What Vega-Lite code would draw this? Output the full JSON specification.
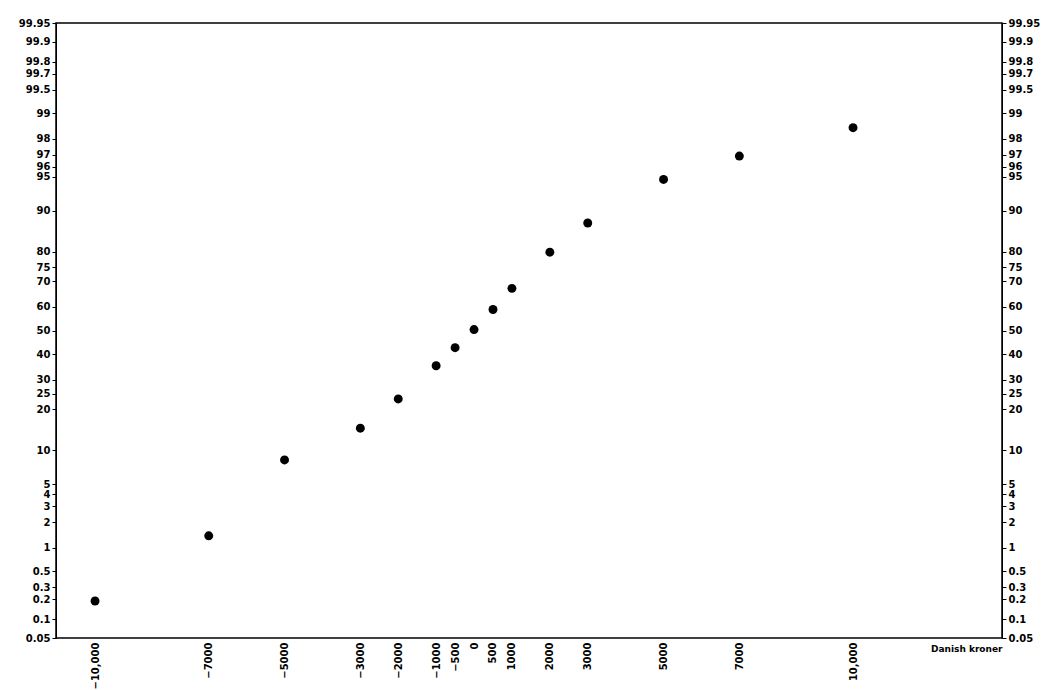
{
"$schema":"https://vega.github.io/schema/vega-lite/v6.json",
"width":946,"height":615,
"padding":{"left":18,"top":18,"right":5,"bottom":5},
"background":"white",
"config":{"view":{"stroke":"black","strokeWidth":1.5},"font":"DejaVu Sans","axis":{"labelFont":"DejaVu Sans","labelFontWeight":"bold","labelFontSize":10,"labelColor":"black","tickColor":"black","domainColor":"black","grid":false,"labelOverlap":false,"labelFlush":false}},
"data":{"values":[
{"kr":-10000,"p":0.19},{"kr":-7000,"p":1.4},{"kr":-5000,"p":8.3},{"kr":-3000,"p":14.8},{"kr":-2000,"p":23.2},{"kr":-1000,"p":35.3},{"kr":-500,"p":42.7},{"kr":0,"p":50.4},{"kr":500,"p":58.9},{"kr":1000,"p":67.4},{"kr":2000,"p":79.9},{"kr":3000,"p":87.5},{"kr":5000,"p":94.7},{"kr":7000,"p":96.9},{"kr":10000,"p":98.5}
]},
"transform":[{"calculate":"quantileNormal(datum.p/100)","as":"z"}],
"layer":[
{"mark":{"type":"point","filled":true,"color":"black","opacity":1,"size":80},
"encoding":{
"x":{"field":"kr","type":"quantitative","scale":{"domain":[-11030,13930],"nice":false,"zero":false},
"axis":{"values":[-10000,-7000,-5000,-3000,-2000,-1000,-500,0,500,1000,2000,3000,5000,7000,10000],"labelAngle":-90,"labelExpr":"datum.value<=-10000||datum.value>=10000 ? replace(format(datum.value,','),'-','−') : replace(format(datum.value,'d'),'-','−')","labelPadding":4,"tickSize":0,"domain":false,"title":"Danish kroner","titleFontSize":9,"titleFontWeight":"bold","titleAngle":0,"titleAlign":"right","titleBaseline":"top","titleX":946,"titleY":6}},
"y":{"field":"z","type":"quantitative","scale":{"domain":[-3.2905,3.2905],"nice":false,"zero":false},
"axis":{"values":[-3.2905,-3.0902,-2.8782,-2.7478,-2.5758,-2.3263,-2.0537,-1.8808,-1.7507,-1.6449,-1.2816,-0.8416,-0.6745,-0.5244,-0.2533,0,0.2533,0.5244,0.6745,0.8416,1.2816,1.6449,1.7507,1.8808,2.0537,2.3263,2.5758,2.7478,2.8782,3.0902,3.2905],"labelExpr":"format(round(cumulativeNormal(datum.value)*10000)/100,'.4~r')","tickSize":4,"labelPadding":2,"title":null}}
}},
{"mark":{"type":"point","opacity":0},
"encoding":{"y":{"field":"z","type":"quantitative","axis":{"orient":"right","values":[-3.2905,-3.0902,-2.8782,-2.7478,-2.5758,-2.3263,-2.0537,-1.8808,-1.7507,-1.6449,-1.2816,-0.8416,-0.6745,-0.5244,-0.2533,0,0.2533,0.5244,0.6745,0.8416,1.2816,1.6449,1.7507,1.8808,2.0537,2.3263,2.5758,2.7478,2.8782,3.0902,3.2905],"labelExpr":"format(round(cumulativeNormal(datum.value)*10000)/100,'.4~r')","tickSize":4,"labelPadding":2,"title":null}}}}
],
"resolve":{"scale":{"y":"shared"},"axis":{"y":"independent"}}
}
